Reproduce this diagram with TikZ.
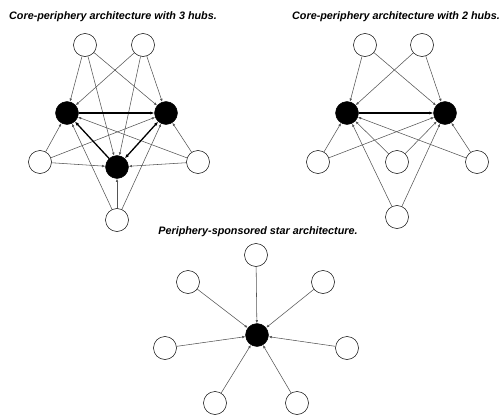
\documentclass[tikz,border=0pt]{standalone}
\usepackage{fontspec}
\setmainfont{Liberation Sans}
\usepackage{tikz}
\usetikzlibrary{arrows.meta}
\definecolor{edgegray}{RGB}{85,85,85}

\begin{document}
\begin{tikzpicture}[x=1pt,y=-1pt,
  peri/.style={draw, circle, fill=white, minimum size=23pt, inner sep=0pt, line width=0.5pt},
  hub/.style={draw, circle, fill=black, minimum size=23pt, inner sep=0pt},
  link/.style={-{Latex[length=3.2pt,width=2.6pt]}, draw=edgegray, line width=0.55pt},
  corelink/.style={-{Latex[length=4pt,width=3.2pt]}, line width=1.3pt},
  title/.style={font=\fontsize{10.8}{12}\selectfont\bfseries\itshape}]
\useasboundingbox (0,0) rectangle (504,415);

% Core-periphery, 3 hubs
\node[title] (t1) at (113,17) {Core-periphery architecture with 3 hubs.};
\node[hub] (ha) at (67,113) {};
\node[hub] (hb) at (166,113) {};
\node[hub] (hc) at (117,167) {};
\node[peri] (pa) at (85,45) {};
\node[peri] (pb) at (143,45) {};
\node[peri] (pc) at (40,162) {};
\node[peri] (pd) at (198,162) {};
\node[peri] (pe) at (117,220) {};
\foreach \p in {pa,pb,pc,pd,pe}
  \foreach \h in {ha,hb,hc}
    \draw[link] (\p) -- (\h);
\draw[corelink] (ha) -- (hb);
\draw[corelink] (hc) -- (ha);
\draw[corelink,{Latex[length=4pt,width=3.2pt]}-{Latex[length=4pt,width=3.2pt]}] (hc) -- (hb);

% Core-periphery, 2 hubs
\node[title] (t2) at (396,17) {Core-periphery architecture with 2 hubs.};
\node[hub] (hd) at (347,113) {};
\node[hub] (he) at (445,113) {};
\node[peri] (pf) at (365,45) {};
\node[peri] (pg) at (422,45) {};
\node[peri] (ph) at (318,162) {};
\node[peri] (pi) at (397,162) {};
\node[peri] (pj) at (477,162) {};
\node[peri] (pk) at (397,217) {};
\foreach \p in {pf,pg,ph,pi,pj,pk}
  \foreach \h in {hd,he}
    \draw[link] (\p) -- (\h);
\draw[corelink] (hd) -- (he);

% Periphery-sponsored star
\node[title] (t3) at (258,232) {Periphery-sponsored star architecture.};
\node[hub] (hs) at (257,335) {};
\node[peri] (s1) at (256,255) {};
\node[peri] (s2) at (188,282) {};
\node[peri] (s3) at (323,282) {};
\node[peri] (s4) at (165,348) {};
\node[peri] (s5) at (347,348) {};
\node[peri] (s6) at (215,403) {};
\node[peri] (s7) at (297,403) {};
\foreach \p in {s1,s2,s3,s4,s5,s6,s7}
  \draw[link] (\p) -- (hs);
\end{tikzpicture}
\end{document}
